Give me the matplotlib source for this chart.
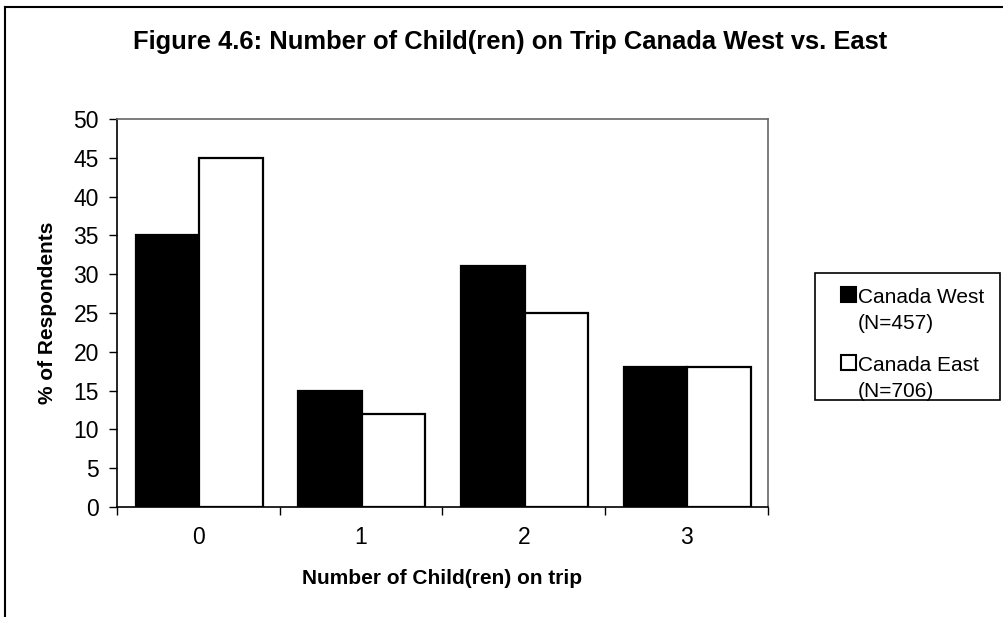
import matplotlib
matplotlib.use("Agg")
import matplotlib.pyplot as plt
from matplotlib.patches import Rectangle
from matplotlib.lines import Line2D
import numpy as np

plt.rcParams["font.family"] = ["Liberation Sans", "DejaVu Sans"]

categories = ["0", "1", "2", "3"]
series_names = ["Canada West\n(N=457)", "Canada East\n(N=706)"]
west = [35, 15, 31, 18]
east = [45, 12, 25, 18]
y_ticks = [0, 5, 10, 15, 20, 25, 30, 35, 40, 45, 50]

W, H = 1004, 617
fig = plt.figure(figsize=(W / 100, H / 100), dpi=100)
fig.patch.set_facecolor("white")

# outer chart frame (left and top edges)
fig.add_artist(Line2D([5 / W, 5 / W], [0, 1 - 7 / H], transform=fig.transFigure,
                      color="black", lw=1.5))
fig.add_artist(Line2D([5 / W, 1], [1 - 7 / H, 1 - 7 / H], transform=fig.transFigure,
                      color="black", lw=1.5))

left, right, top, bottom = 117, 768, 119, 507
ax = fig.add_axes([left / W, 1 - bottom / H, (right - left) / W, (bottom - top) / H])

x = np.arange(len(categories))
bw = 0.39
ax.bar(x - bw / 2 + 0.005, west, bw, color="black", edgecolor="black", linewidth=1.6, zorder=3)
ax.bar(x + bw / 2 + 0.005, east, bw, color="white", edgecolor="black", linewidth=1.6, zorder=3)

ax.set_xlim(-0.5, len(categories) - 0.5)
ax.set_ylim(0, 50)
ax.set_yticks(y_ticks)
ax.set_yticklabels([str(v) for v in y_ticks], fontsize=16.5)
ax.set_xticks(x)
ax.set_xticklabels(categories, fontsize=16.5)
ax.tick_params(axis="x", which="major", length=0, pad=14)
ax.set_xticks(np.arange(len(categories) + 1) - 0.5, minor=True)
ax.tick_params(axis="x", which="minor", length=6, width=1, direction="out")
ax.tick_params(axis="y", length=6, width=1, direction="out", pad=7)

for s in ["top", "right"]:
    ax.spines[s].set_color("#666666")
    ax.spines[s].set_linewidth(1.2)
for s in ["left", "bottom"]:
    ax.spines[s].set_color("black")
    ax.spines[s].set_linewidth(1.2)

ax.set_ylabel("% of Respondents", fontsize=15, fontweight="bold", labelpad=12)
ax.set_xlabel("Number of Child(ren) on trip", fontsize=15, fontweight="bold", labelpad=14)

fig.text(510 / W, 1 - 42 / H, "Figure 4.6: Number of Child(ren) on Trip Canada West vs. East",
         ha="center", va="center", fontsize=18.4, fontweight="bold")

# legend box drawn on the figure
lx0, lx1, ly0, ly1 = 815, 1000, 273, 400
fig.add_artist(Rectangle((lx0 / W, 1 - ly1 / H), (lx1 - lx0) / W, (ly1 - ly0) / H,
                         transform=fig.transFigure, facecolor="white",
                         edgecolor="black", lw=1.2))
entries = [(series_names[0], "black", 287), (series_names[1], "white", 355)]
for label, fc, ytop in entries:
    sq = 15
    fig.add_artist(Rectangle((841 / W, 1 - (ytop + sq) / H), sq / W, sq / H,
                             transform=fig.transFigure, facecolor=fc,
                             edgecolor="black", lw=1.5))
    fig.text(858 / W, 1 - (ytop + 1) / H, label, ha="left", va="top",
             fontsize=15, linespacing=1.45)

fig.savefig("out.png", dpi=100)
